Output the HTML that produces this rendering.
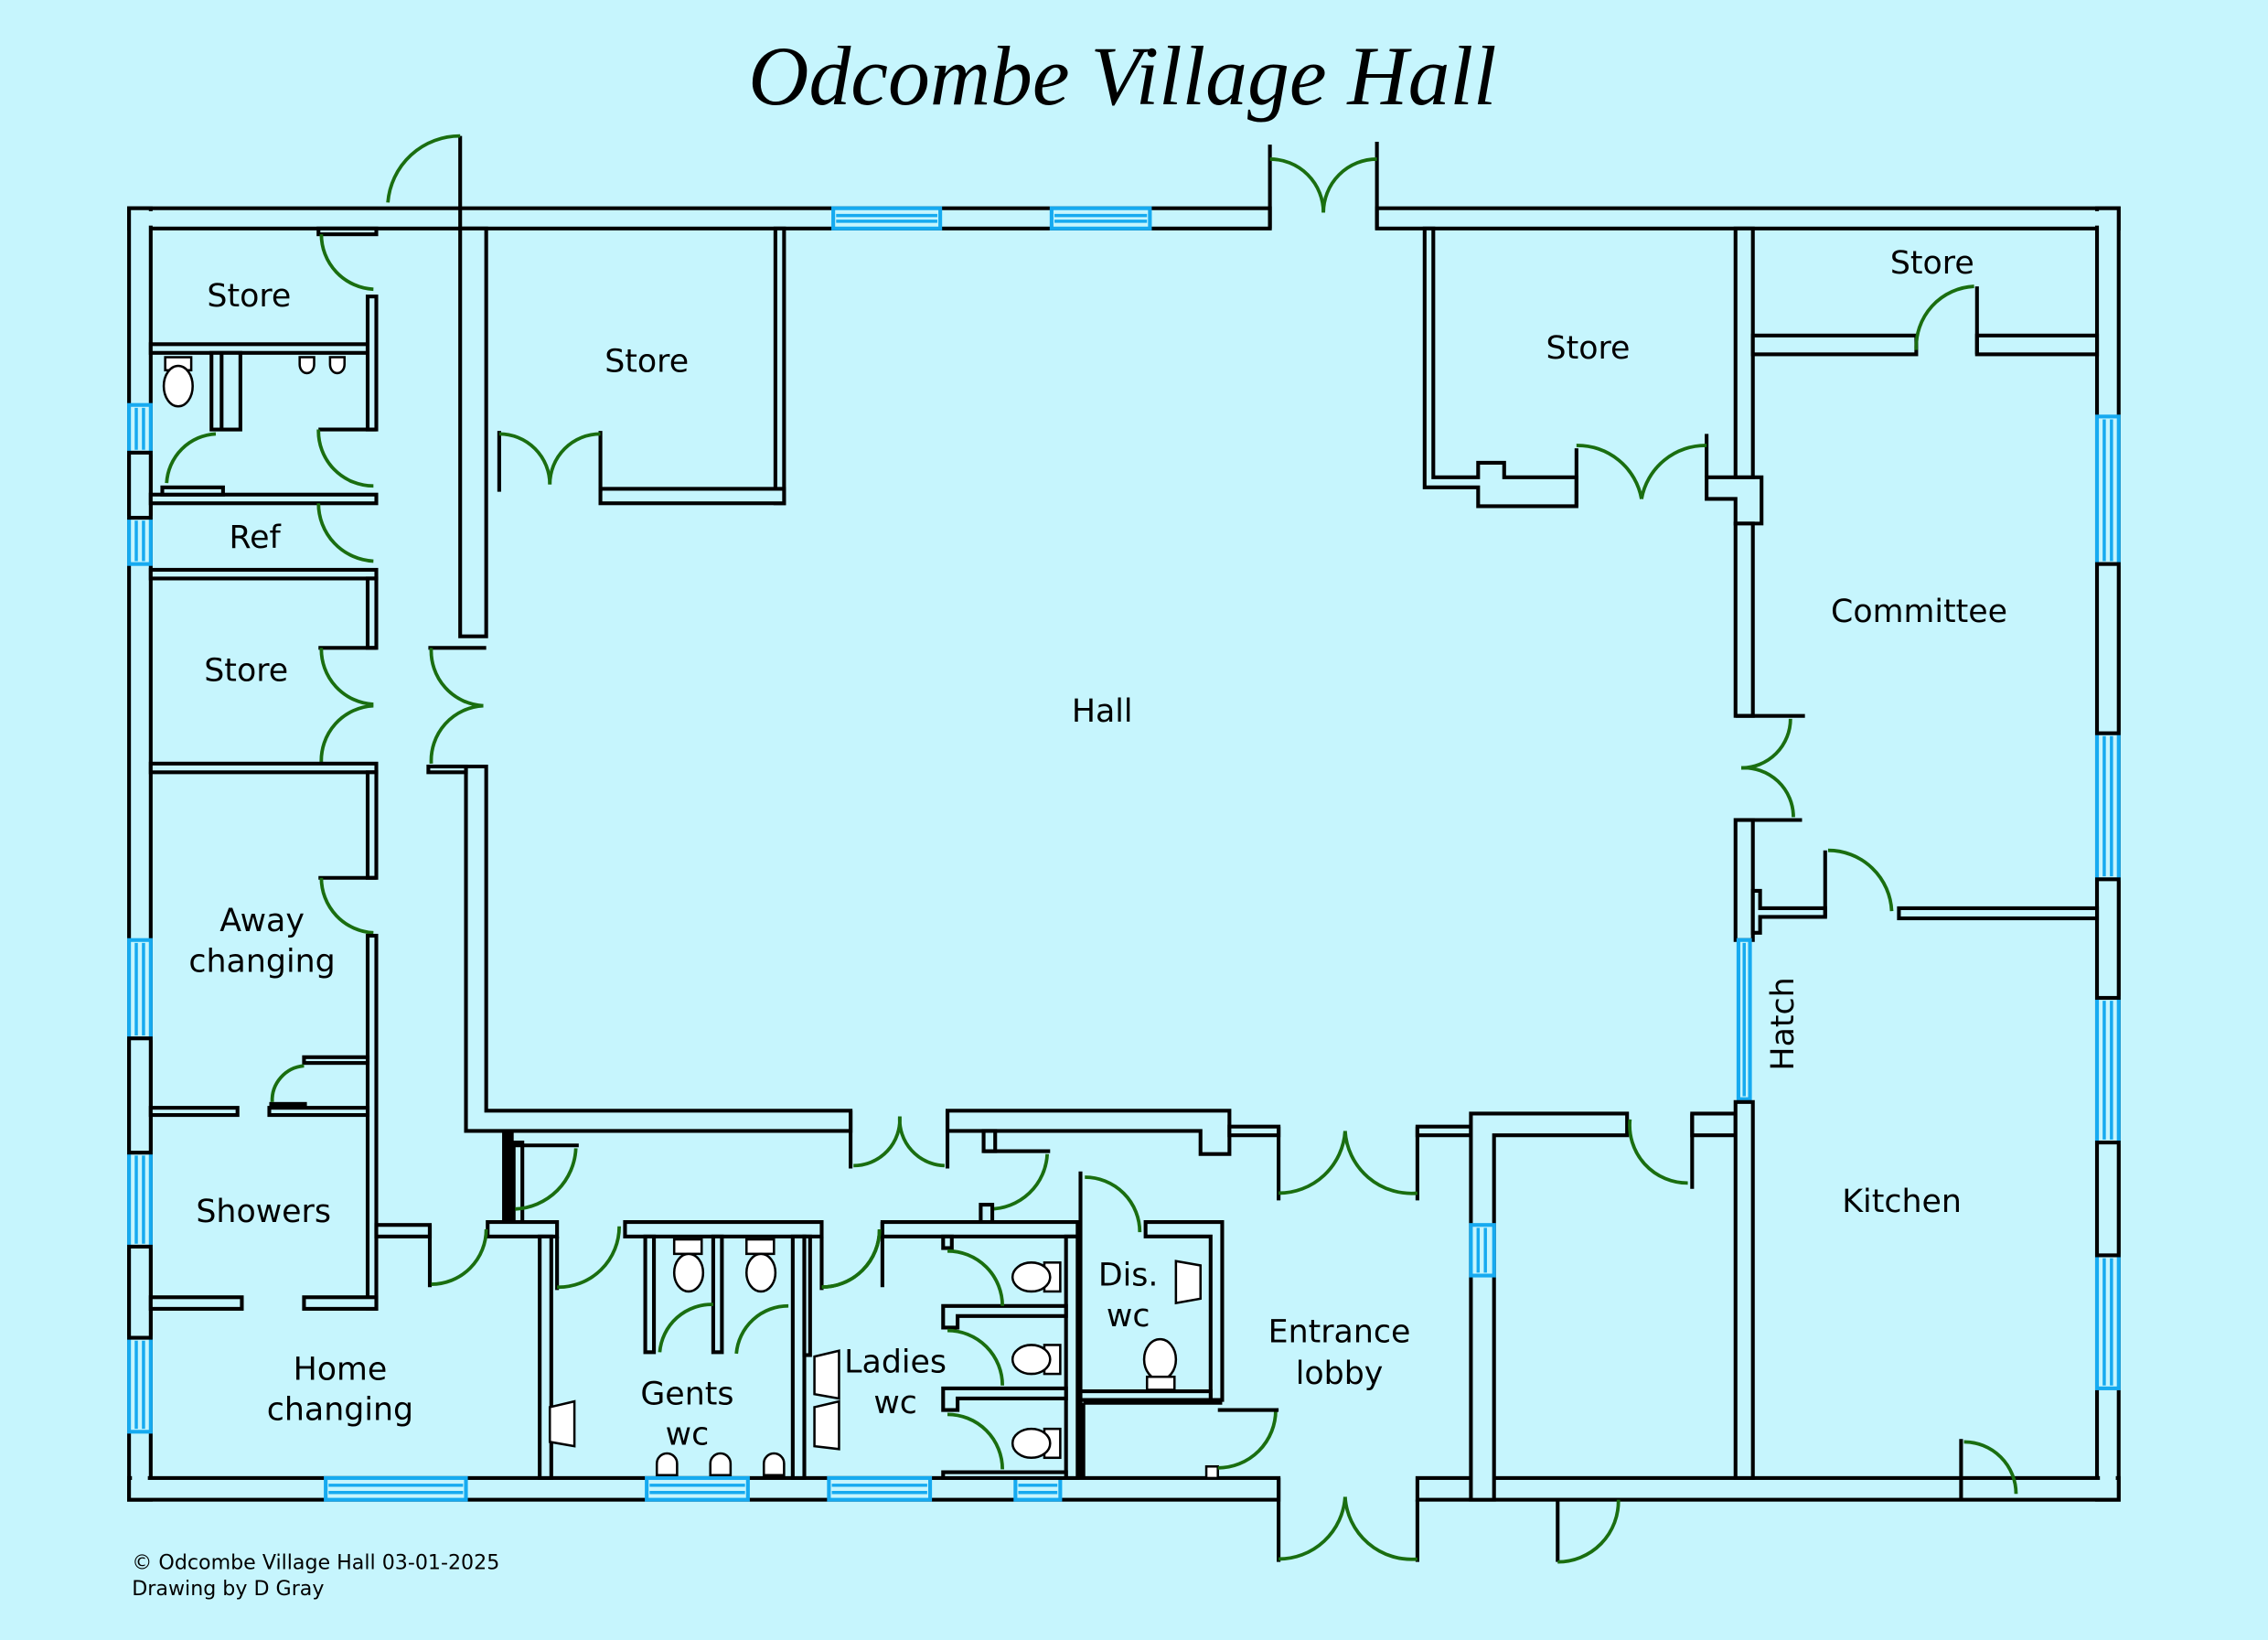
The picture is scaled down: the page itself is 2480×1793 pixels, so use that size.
<!DOCTYPE html>
<html><head><meta charset="utf-8"><style>
html,body{margin:0;padding:0;background:#c6f5fd;}
svg{display:block}
.w{fill:#c6f5fd;stroke:#000;stroke-width:2.6}
.l{stroke:#000;stroke-width:2.6;fill:none}
.d{stroke:#1a6e10;stroke-width:2.4;fill:none}
.g{fill:#c6f5fd;stroke:#16aaf0;stroke-width:2.6}
.gl{stroke:#16aaf0;stroke-width:2.2}
.t{font-family:"DejaVu Sans","Liberation Sans",sans-serif;font-size:22px;fill:#000;text-anchor:middle}
.f{fill:#fff;stroke:#000;stroke-width:1.6}
</style></head><body>
<svg width="2480" height="1793" viewBox="0 0 1568 1134" xmlns="http://www.w3.org/2000/svg">
<rect width="1568" height="1134" fill="#c6f5fd"/>
<text x="776" y="72" font-family="'Liberation Serif',serif" font-style="italic" font-size="58" text-anchor="middle" fill="#000">Odcombe Village Hall</text>

<!-- outer walls -->
<rect class="w" x="89" y="144" width="789" height="14"/>
<rect class="w" x="952" y="144" width="513" height="14"/>
<rect class="w" x="89" y="144" width="15" height="893"/>
<rect class="w" x="1450" y="144" width="15" height="893"/>
<rect class="w" x="89" y="1022" width="795" height="15"/>
<rect class="w" x="980" y="1022" width="485" height="15"/>
<rect fill="#c6f5fd" x="91" y="146" width="11" height="889"/>
<rect fill="#c6f5fd" x="1452" y="146" width="11" height="889"/>
<rect fill="#c6f5fd" x="91" y="1024" width="791" height="11"/>
<rect fill="#c6f5fd" x="982" y="1024" width="481" height="11"/>
<rect fill="#c6f5fd" x="91" y="146" width="785" height="10"/>
<rect fill="#c6f5fd" x="954" y="146" width="509" height="10"/>
<!-- top entrance -->
<line class="l" x1="878" y1="100" x2="878" y2="158"/>
<line class="l" x1="952" y1="98" x2="952" y2="158"/>
<path class="d" d="M878 110 A37 37 0 0 1 915 147"/>
<path class="d" d="M952 110 A37 37 0 0 0 915 147"/>
<line class="l" x1="318" y1="94" x2="318" y2="158"/>
<path class="d" d="M318 94 A50 50 0 0 0 268 140"/>
<!-- bottom entrance -->
<line class="l" x1="884" y1="1022" x2="884" y2="1080"/>
<line class="l" x1="980" y1="1037" x2="980" y2="1080"/>
<path class="d" d="M884 1078 A46 46 0 0 0 930 1035"/>
<path class="d" d="M980 1078 A46 46 0 0 1 930 1035"/>
<line class="l" x1="1077" y1="1037" x2="1077" y2="1080"/>
<path class="d" d="M1077 1080 A42 42 0 0 0 1119 1037"/>

<!-- windows -->
<g>
<rect class="g" x="576" y="144" width="74" height="14"/><line class="gl" x1="578" y1="149" x2="648" y2="149"/><line class="gl" x1="578" y1="153" x2="648" y2="153"/>
<rect class="g" x="727" y="144" width="68" height="14"/><line class="gl" x1="729" y1="149" x2="793" y2="149"/><line class="gl" x1="729" y1="153" x2="793" y2="153"/>
<rect class="g" x="225" y="1022" width="97" height="15"/><line class="gl" x1="227" y1="1027" x2="320" y2="1027"/><line class="gl" x1="227" y1="1032" x2="320" y2="1032"/>
<rect class="g" x="447" y="1022" width="70" height="15"/><line class="gl" x1="449" y1="1027" x2="515" y2="1027"/><line class="gl" x1="449" y1="1032" x2="515" y2="1032"/>
<rect class="g" x="573" y="1022" width="70" height="15"/><line class="gl" x1="575" y1="1027" x2="641" y2="1027"/><line class="gl" x1="575" y1="1032" x2="641" y2="1032"/>
<rect class="g" x="702" y="1022" width="31" height="15"/><line class="gl" x1="704" y1="1027" x2="731" y2="1027"/><line class="gl" x1="704" y1="1032" x2="731" y2="1032"/>
</g>
<g>
<rect class="g" x="89" y="280" width="15" height="33"/><line class="gl" x1="94" y1="282" x2="94" y2="311"/><line class="gl" x1="99" y1="282" x2="99" y2="311"/>
<rect class="g" x="89" y="358" width="15" height="32"/><line class="gl" x1="94" y1="360" x2="94" y2="388"/><line class="gl" x1="99" y1="360" x2="99" y2="388"/>
<rect class="g" x="89" y="650" width="15" height="68"/><line class="gl" x1="94" y1="652" x2="94" y2="716"/><line class="gl" x1="99" y1="652" x2="99" y2="716"/>
<rect class="g" x="89" y="797" width="15" height="65"/><line class="gl" x1="94" y1="799" x2="94" y2="860"/><line class="gl" x1="99" y1="799" x2="99" y2="860"/>
<rect class="g" x="89" y="925" width="15" height="65"/><line class="gl" x1="94" y1="927" x2="94" y2="988"/><line class="gl" x1="99" y1="927" x2="99" y2="988"/>
<rect class="g" x="1450" y="288" width="15" height="102"/><line class="gl" x1="1455" y1="290" x2="1455" y2="388"/><line class="gl" x1="1460" y1="290" x2="1460" y2="388"/>
<rect class="g" x="1450" y="507" width="15" height="101"/><line class="gl" x1="1455" y1="509" x2="1455" y2="606"/><line class="gl" x1="1460" y1="509" x2="1460" y2="606"/>
<rect class="g" x="1450" y="690" width="15" height="100"/><line class="gl" x1="1455" y1="692" x2="1455" y2="788"/><line class="gl" x1="1460" y1="692" x2="1460" y2="788"/>
<rect class="g" x="1450" y="868" width="15" height="92"/><line class="gl" x1="1455" y1="870" x2="1455" y2="958"/><line class="gl" x1="1460" y1="870" x2="1460" y2="958"/>
</g>
<rect class="w" x="89" y="313" width="15" height="45"/>
<rect class="w" x="89" y="718" width="15" height="79"/>
<rect class="w" x="89" y="862" width="15" height="63"/>
<rect class="w" x="1450" y="390" width="15" height="117"/>
<rect class="w" x="1450" y="608" width="15" height="82"/>
<rect class="w" x="1450" y="790" width="15" height="78"/>

<!-- LEFT COLUMN -->
<rect class="w" x="104" y="238" width="150" height="6"/>
<rect class="w" x="220" y="158" width="40" height="4"/>
<path class="d" d="M222 162 A38 38 0 0 0 258 200"/>
<rect class="w" x="254" y="205" width="6" height="92"/>
<rect class="w" x="146" y="244" width="20" height="53"/>
<line class="l" x1="153" y1="244" x2="153" y2="297"/>
<line class="l" x1="220" y1="297" x2="260" y2="297"/>
<path class="d" d="M220 297 A38 38 0 0 0 258 336"/>
<path class="d" d="M149 300 A36 36 0 0 0 115 334"/>
<rect class="w" x="104" y="342" width="156" height="6"/>
<rect class="w" x="112" y="337" width="42" height="5"/>
<path class="d" d="M220 348 A40 40 0 0 0 258 388"/>
<rect class="w" x="104" y="394" width="156" height="6"/>
<rect class="w" x="254" y="400" width="6" height="48"/>
<line class="l" x1="220" y1="448" x2="260" y2="448"/>
<path class="d" d="M222 448 A38 38 0 0 0 258 487"/>
<path class="d" d="M222 528 A38 38 0 0 1 258 488"/>
<rect class="w" x="104" y="528" width="156" height="6"/>
<rect class="w" x="254" y="534" width="6" height="73"/>
<line class="l" x1="220" y1="607" x2="260" y2="607"/>
<path class="d" d="M222 607 A38 38 0 0 0 258 645"/>
<rect class="w" x="254" y="647" width="6" height="258"/>
<rect class="w" x="210" y="731" width="44" height="4"/>
<rect class="w" x="104" y="766" width="60" height="5"/>
<rect class="w" x="186" y="766" width="68" height="5"/>
<rect x="186" y="762" width="26" height="4" fill="#000"/>
<path class="d" d="M210 737 A24 24 0 0 0 188 762"/>
<rect class="w" x="104" y="897" width="63" height="8"/>
<rect class="w" x="210" y="897" width="50" height="8"/>
<rect class="f" x="114" y="247" width="18" height="9"/>
<ellipse class="f" cx="123" cy="267" rx="10" ry="14"/>
<path class="f" d="M207 247 h10 v5 a5 6 0 0 1 -10 0z"/>
<path class="f" d="M228 247 h10 v5 a5 6 0 0 1 -10 0z"/>

<!-- corridor / hall left -->
<rect class="w" x="318" y="158" width="18" height="282"/>
<line class="l" x1="296" y1="448" x2="336" y2="448"/>
<path class="d" d="M334 488 A38 38 0 0 1 298 448"/>
<path class="d" d="M334 488 A38 38 0 0 0 298 528"/>
<path d="M322 530 H336 V768 H588 V782 H322 Z" class="w"/>
<rect class="w" x="296" y="530" width="26" height="4"/>
<!-- hall store top-left -->
<rect class="w" x="536" y="158" width="6" height="190"/>
<rect class="w" x="415" y="338" width="127" height="10"/>
<line class="l" x1="345" y1="298" x2="345" y2="340"/>
<line class="l" x1="415" y1="298" x2="415" y2="340"/>
<path class="d" d="M345 300 A35 35 0 0 1 380 335"/>
<path class="d" d="M415 300 A35 35 0 0 0 380 335"/>
<path d="M655 768 H850 V798 H830 V782 H655 Z" class="w"/>
<line class="l" x1="588" y1="768" x2="588" y2="808"/>
<line class="l" x1="655" y1="768" x2="655" y2="808"/>
<path class="d" d="M590 806 A32 32 0 0 0 622 772"/>
<path class="d" d="M653 806 A32 32 0 0 1 622 772"/>
<rect class="w" x="680" y="782" width="8" height="14"/>
<line class="l" x1="680" y1="796" x2="726" y2="796"/>
<path class="d" d="M724 798 A40 40 0 0 1 684 836"/>
<rect class="w" x="678" y="833" width="8" height="12"/>

<!-- lower middle -->
<rect x="347" y="782" width="8" height="63" fill="#000"/>
<rect class="w" x="355" y="790" width="6" height="55"/>
<line class="l" x1="355" y1="792" x2="400" y2="792"/>
<path class="d" d="M398 794 A44 44 0 0 1 356 836"/>
<rect class="w" x="337" y="845" width="48" height="10"/>
<rect class="w" x="373" y="855" width="8" height="167"/>
<line class="l" x1="385" y1="855" x2="385" y2="892"/>
<path class="d" d="M385 890 A42 42 0 0 0 428 848"/>
<rect class="w" x="260" y="847" width="37" height="8"/>
<line class="l" x1="297" y1="847" x2="297" y2="890"/>
<path class="d" d="M298 888 A38 38 0 0 0 336 850"/>
<path class="f" d="M380 973 L397 969 V1000 L380 997Z"/>
<!-- gents -->
<rect class="w" x="432" y="845" width="136" height="10"/>
<rect class="w" x="446" y="855" width="6" height="80"/>
<rect class="w" x="493" y="855" width="6" height="80"/>
<rect class="w" x="548" y="855" width="8" height="167"/>
<rect class="w" x="556" y="855" width="4" height="82"/>
<line class="l" x1="568" y1="855" x2="568" y2="892"/>
<path class="d" d="M568 890 A40 40 0 0 0 608 850"/>
<path class="d" d="M493 902 A36 36 0 0 0 456 935"/>
<path class="d" d="M545 903 A36 36 0 0 0 509 936"/>
<rect class="f" x="466" y="857" width="19" height="10"/><ellipse class="f" cx="476" cy="880" rx="10" ry="13"/>
<rect class="f" x="516" y="857" width="19" height="10"/><ellipse class="f" cx="526" cy="880" rx="10" ry="13"/>
<path class="f" d="M454 1020 V1012 a7 7 0 0 1 14 0 V1020Z"/>
<path class="f" d="M491 1020 V1012 a7 7 0 0 1 14 0 V1020Z"/>
<path class="f" d="M528 1020 V1012 a7 7 0 0 1 14 0 V1020Z"/>
<path class="f" d="M563 938 L580 934 V967 L563 964Z"/>
<path class="f" d="M563 973 L580 969 V1002 L563 1000Z"/>
<!-- ladies -->
<rect class="w" x="610" y="845" width="135" height="10"/>
<line class="l" x1="610" y1="845" x2="610" y2="890"/>
<path class="d" d="M608 850 A40 40 0 0 1 568 890"/>
<rect class="w" x="737" y="855" width="8" height="167"/>
<rect class="w" x="652" y="855" width="6" height="8"/>
<path class="w" d="M652 903 H737 V910 H662 V918 H652Z"/>
<path class="w" d="M652 960 H737 V967 H662 V975 H652Z"/>
<path class="w" d="M652 1018 H737 V1022 H652Z"/>
<path class="d" d="M655 865 A38 38 0 0 1 693 903"/>
<path class="d" d="M655 920 A38 38 0 0 1 693 958"/>
<path class="d" d="M655 978 A38 38 0 0 1 693 1016"/>
<rect class="f" x="722" y="873" width="11" height="20"/><ellipse class="f" cx="713" cy="883" rx="13" ry="10"/>
<rect class="f" x="722" y="930" width="11" height="20"/><ellipse class="f" cx="713" cy="940" rx="13" ry="10"/>
<rect class="f" x="722" y="988" width="11" height="20"/><ellipse class="f" cx="713" cy="998" rx="13" ry="10"/>
<!-- dis wc -->
<line class="l" x1="747" y1="810" x2="747" y2="1022"/>
<path class="d" d="M750 814 A38 38 0 0 1 788 852"/>
<path class="w" d="M792 845 H845 V968 H837 V855 H792Z"/>
<path class="w" d="M747 962 H837 V968 H747Z"/>
<line class="l" x1="749" y1="970" x2="845" y2="970"/>
<line class="l" x1="749" y1="970" x2="749" y2="1022"/>
<path class="f" d="M813 872 L830 875 V898 L813 901Z"/>
<ellipse class="f" cx="802" cy="940" rx="11" ry="14"/><rect class="f" x="793" y="952" width="19" height="9"/>
<rect class="f" x="834" y="1014" width="8" height="8"/>
<path class="d" d="M842 1015 A40 40 0 0 0 882 975"/>
<line class="l" x1="842" y1="975" x2="884" y2="975"/>

<!-- entrance lobby top -->
<rect class="w" x="850" y="779" width="34" height="6"/>
<line class="l" x1="884" y1="779" x2="884" y2="830"/>
<line class="l" x1="980" y1="779" x2="980" y2="830"/>
<path class="d" d="M884 825 A46 46 0 0 0 930 782"/>
<path class="d" d="M980 825 A46 46 0 0 1 930 782"/>
<rect class="w" x="980" y="779" width="37" height="6"/>
<path class="w" d="M1017 770 H1125 V785 H1033 V1037 H1017Z"/>
<rect class="g" x="1017" y="847" width="16" height="35"/><line class="gl" x1="1022" y1="849" x2="1022" y2="880"/><line class="gl" x1="1027" y1="849" x2="1027" y2="880"/>
<path class="d" d="M1127 774 A40 40 0 0 0 1167 818"/>
<rect class="w" x="1170" y="770" width="30" height="15"/>
<line class="l" x1="1170" y1="770" x2="1170" y2="822"/>

<!-- right: store -->
<path class="w" d="M985 158 H991 V330 H1022 V320 H1040 V330 H1090 V350 H1022 V337 H985Z"/>
<line class="l" x1="1090" y1="310" x2="1090" y2="350"/>
<line class="l" x1="1180" y1="300" x2="1180" y2="330"/>
<path class="d" d="M1090 308 A45 45 0 0 1 1135 345"/>
<path class="d" d="M1180 308 A45 45 0 0 0 1135 345"/>
<path class="w" d="M1180 330 H1218 V362 H1200 V345 H1180Z"/>
<rect class="w" x="1200" y="158" width="12" height="172"/>
<rect class="w" x="1200" y="362" width="12" height="133"/>
<line class="l" x1="1200" y1="495" x2="1248" y2="495"/>
<line class="l" x1="1200" y1="567" x2="1246" y2="567"/>
<path class="d" d="M1238 497 A34 34 0 0 1 1204 531"/>
<path class="d" d="M1204 531 A34 34 0 0 1 1240 565"/>
<rect class="w" x="1200" y="567" width="12" height="83"/>
<path class="w" d="M1212 616 H1217 V628 H1262 V634 H1217 V645 H1212Z"/>
<line class="l" x1="1262" y1="588" x2="1262" y2="634"/>
<path class="d" d="M1264 588 A44 44 0 0 1 1308 630"/>
<rect class="w" x="1313" y="628" width="137" height="7"/>
<rect class="g" x="1202" y="650" width="8" height="110"/><line class="gl" x1="1206" y1="652" x2="1206" y2="758"/>
<rect class="w" x="1200" y="762" width="12" height="260"/>
<rect class="w" x="1212" y="232" width="113" height="13"/>
<rect class="w" x="1367" y="232" width="83" height="13"/>
<line class="l" x1="1367" y1="198" x2="1367" y2="245"/>
<path class="d" d="M1365 198 A42 42 0 0 0 1325 242"/>
<line class="l" x1="1356" y1="995" x2="1356" y2="1037"/>
<path class="d" d="M1358 997 A36 36 0 0 1 1394 1033"/>

<!-- labels -->
<text class="t" x="172" y="212">Store</text>
<text class="t" x="447" y="257">Store</text>
<text class="t" x="176" y="379">Ref</text>
<text class="t" x="170" y="471">Store</text>
<text class="t" x="181" y="644">Away</text>
<text class="t" x="181" y="672">changing</text>
<text class="t" x="182" y="845">Showers</text>
<text class="t" x="235" y="954">Home</text>
<text class="t" x="235" y="982">changing</text>
<text class="t" x="475" y="971">Gents</text>
<text class="t" x="475" y="999">wc</text>
<text class="t" x="619" y="949">Ladies</text>
<text class="t" x="619" y="977">wc</text>
<text class="t" x="780" y="889">Dis.</text>
<text class="t" x="780" y="917">wc</text>
<text class="t" x="926" y="928">Entrance</text>
<text class="t" x="926" y="957">lobby</text>
<text class="t" x="762" y="499">Hall</text>
<text class="t" x="1098" y="248">Store</text>
<text class="t" x="1336" y="189">Store</text>
<text class="t" x="1327" y="430">Committee</text>
<text class="t" x="1315" y="838">Kitchen</text>
<text class="t" x="1240" y="708" font-size="15" transform="rotate(-90 1240 708)">Hatch</text>
<text x="91" y="1085" font-family="'DejaVu Sans',sans-serif" font-size="14">© Odcombe Village Hall 03-01-2025</text>
<text x="91" y="1103" font-family="'DejaVu Sans',sans-serif" font-size="14">Drawing by D Gray</text>
</svg>
</body></html>
